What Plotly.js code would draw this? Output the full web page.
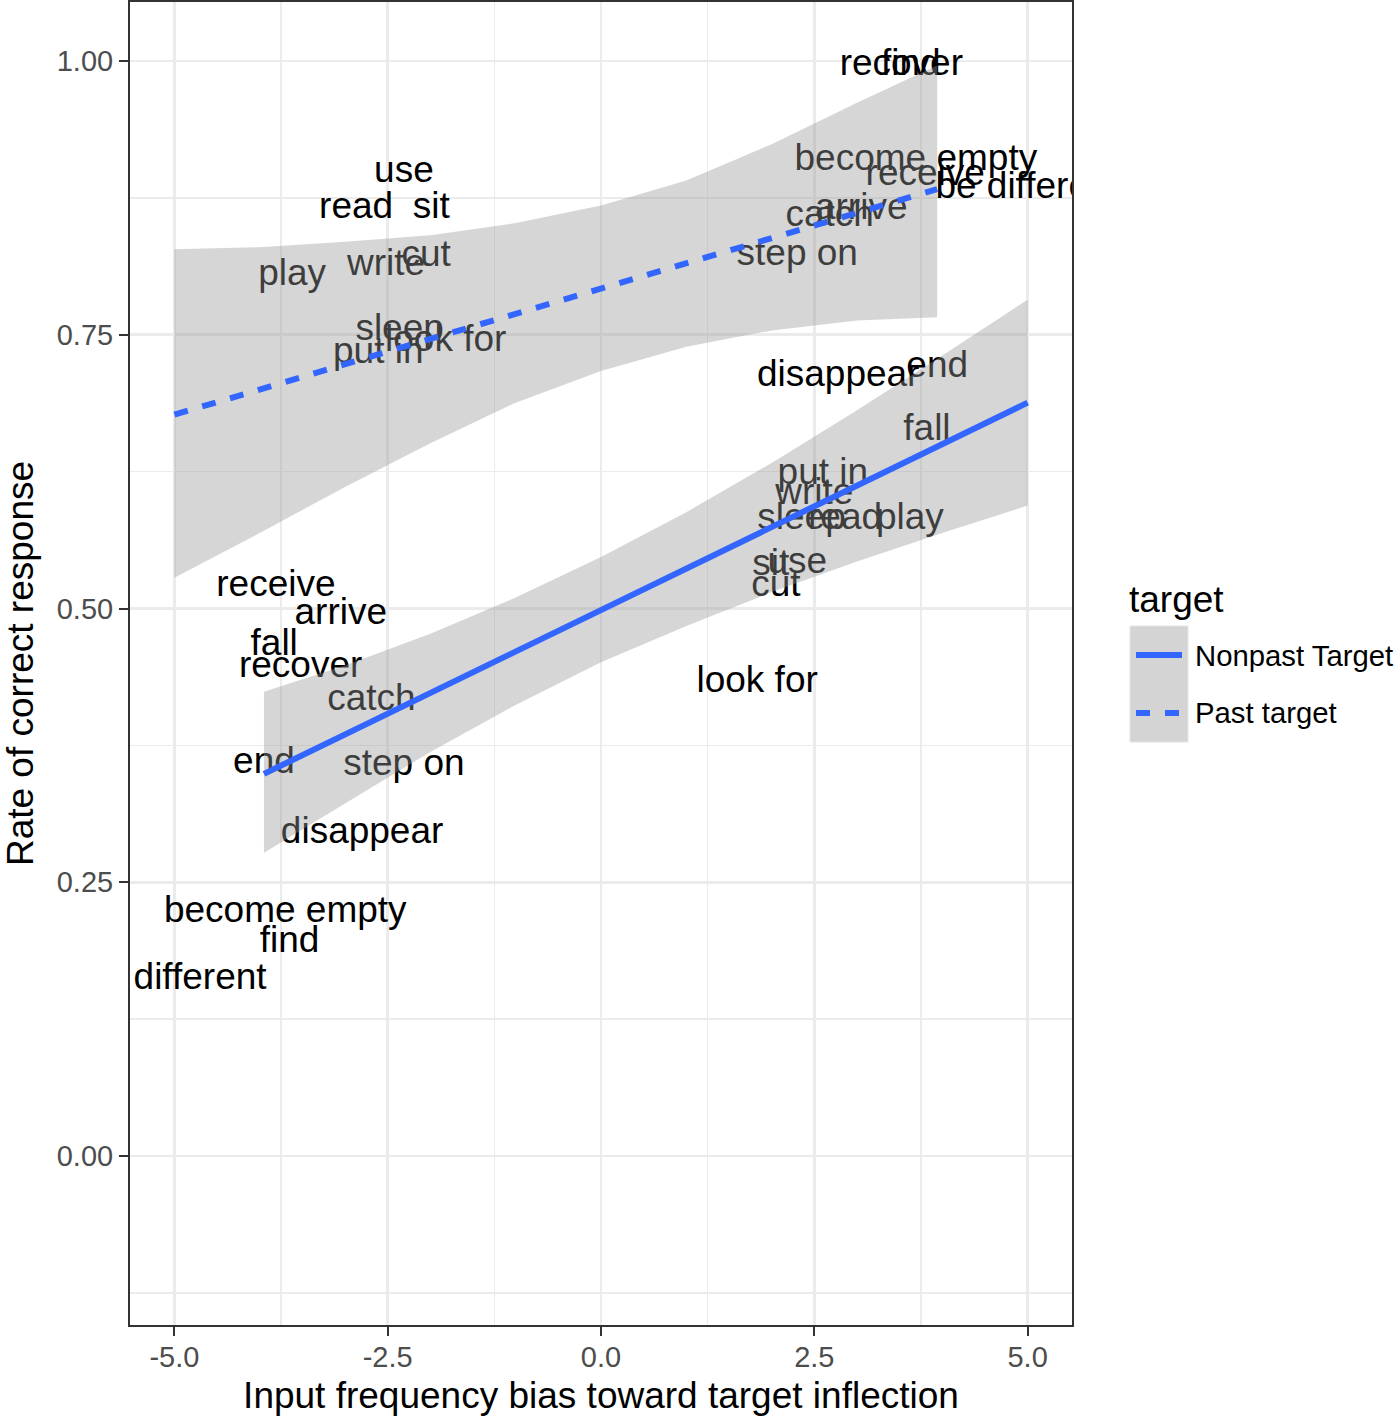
<!DOCTYPE html>
<html>
<head>
<meta charset="utf-8">
<script src="https://cdn.plot.ly/plotly-3.0.1.min.js"></script>
<style>
  html, body { margin: 0; padding: 0; background: #fff; }
  #chart { width: 1400px; height: 1418px; }
</style>
</head>
<body>
<div id="chart"></div>
<script>
// verbs, each shown once per target type
var verbs = ['use', 'read', 'sit', 'write', 'cut', 'play', 'sleep', 'put in', 'look for', 'be different',
             'recover', 'find', 'become empty', 'receive', 'catch', 'arrive', 'step on', 'disappear', 'end', 'fall'];

// input frequency bias toward target inflection
var biasNonpast = [2.30, 2.86, 1.99, 2.50, 2.05, 3.62, 2.35, 2.60, 1.83, 5.00,
                   -3.52, -3.65, -3.70, -3.81, -2.69, -3.05, -2.31, -2.80, -3.95, -3.83];
var biasPast = [-2.31, -2.87, -1.99, -2.52, -2.05, -3.62, -2.36, -2.61, -1.82, -5.00,
                3.52, 3.63, 3.69, 3.80, 2.68, 3.05, 2.30, 2.78, 3.94, 3.82];

// rate of correct response
var rateNonpast = [0.541, 0.581, 0.539, 0.604, 0.520, 0.581, 0.581, 0.622, 0.432, 0.883,
                   0.446, 0.195, 0.222, 0.520, 0.416, 0.494, 0.356, 0.294, 0.358, 0.466];
var ratePast = [0.898, 0.865, 0.865, 0.813, 0.821, 0.804, 0.754, 0.733, 0.744, 0.161,
                0.996, 0.996, 0.909, 0.895, 0.858, 0.864, 0.822, 0.712, 0.720, 0.662];

// smoother fits with confidence bands
var pastBandX = [-5, -4, -3, -2, -1, 0, 1, 2, 3, 3.94];
var pastUpper = [0.828, 0.830, 0.835, 0.841, 0.852, 0.868, 0.891, 0.924, 0.962, 0.996];
var pastLower = [0.528, 0.569, 0.611, 0.651, 0.688, 0.717, 0.739, 0.754, 0.763, 0.766];
var pastFitX = [-5, 3.94];
var pastFit = [0.677, 0.883];

var nonpastBandX = [-3.95, -3, -2, -1, 0, 1, 2, 3, 4, 5];
var nonpastUpper = [0.424, 0.448, 0.477, 0.510, 0.547, 0.588, 0.633, 0.681, 0.731, 0.782];
var nonpastLower = [0.277, 0.322, 0.369, 0.412, 0.451, 0.484, 0.515, 0.543, 0.569, 0.594];
var nonpastFitX = [-3.95, 5];
var nonpastFit = [0.349, 0.688];

var xTicks = [-5, -2.5, 0, 2.5, 5];
var xTickText = ['-5.0', '-2.5', '0.0', '2.5', '5.0'];
var xMinor = [-3.75, -1.25, 1.25, 3.75];
var yTicks = [0, 0.25, 0.5, 0.75, 1];
var yTickText = ['0.00', '0.25', '0.50', '0.75', '1.00'];
var yMinor = [-0.125, 0.125, 0.375, 0.625, 0.875];

var FONT = 'Liberation Sans, Arial, Helvetica, sans-serif';
var BLUE = '#3366FF';
var BAND = 'rgba(153,153,153,0.4)';

function band(xs, upper, lower) {
  return {
    x: xs.concat(xs.slice().reverse()),
    y: upper.concat(lower.slice().reverse()),
    type: 'scatter',
    mode: 'lines',
    fill: 'toself',
    fillcolor: BAND,
    line: {width: 0},
    hoverinfo: 'skip',
    showlegend: false
  };
}

function labels(xs, ys) {
  return {
    x: xs,
    y: ys,
    text: verbs,
    type: 'scatter',
    mode: 'text',
    textposition: 'middle center',
    textfont: {family: FONT, size: 37, color: '#000000'},
    hoverinfo: 'skip',
    showlegend: false
  };
}

var data = [
  labels(biasNonpast, rateNonpast),
  labels(biasPast, ratePast),
  band(nonpastBandX, nonpastUpper, nonpastLower),
  band(pastBandX, pastUpper, pastLower),
  {x: nonpastFitX, y: nonpastFit, type: 'scatter', mode: 'lines',
   line: {color: BLUE, width: 6}, showlegend: false, name: 'Nonpast Target'},
  {x: pastFitX, y: pastFit, type: 'scatter', mode: 'lines',
   line: {color: BLUE, width: 6, dash: '14px,15px'}, showlegend: false, name: 'Past target'}
];

// legend drawn by hand so the key looks like the ggplot guide
function px(x) { return (x - 130) / 942; }
function py(y) { return (1325 - y) / 1323; }

var shapes = [
  {type: 'rect', xref: 'paper', yref: 'paper', x0: px(1130), x1: px(1188), y0: py(742), y1: py(626),
   fillcolor: '#d4d4d4', line: {color: '#e4e4e4', width: 1}},
  {type: 'line', xref: 'paper', yref: 'paper', x0: px(1136), x1: px(1182), y0: py(655), y1: py(655),
   line: {color: BLUE, width: 6}},
  {type: 'line', xref: 'paper', yref: 'paper', x0: px(1136), x1: px(1182), y0: py(713), y1: py(713),
   line: {color: BLUE, width: 6, dash: '14px,15px'}}
];

var annotations = [
  {xref: 'paper', yref: 'paper', x: px(1127), y: py(599), xanchor: 'left', yanchor: 'middle',
   text: 'target', showarrow: false, font: {family: FONT, size: 37, color: '#000000'}},
  {xref: 'paper', yref: 'paper', x: px(1193), y: py(655), xanchor: 'left', yanchor: 'middle',
   text: 'Nonpast Target', showarrow: false, font: {family: FONT, size: 29.3, color: '#000000'}},
  {xref: 'paper', yref: 'paper', x: px(1193), y: py(713), xanchor: 'left', yanchor: 'middle',
   text: 'Past target', showarrow: false, font: {family: FONT, size: 29.3, color: '#000000'}}
];

var axisCommon = {
  showline: true,
  mirror: true,
  linecolor: '#333333',
  linewidth: 2,
  zeroline: false,
  showgrid: true,
  gridcolor: '#ebebeb',
  gridwidth: 2.8,
  ticks: 'outside',
  ticklen: 9,
  tickwidth: 2,
  tickcolor: '#333333',
  tickfont: {family: FONT, size: 29, color: '#4d4d4d'},
  tickmode: 'array'
};

var layout = {
  width: 1400,
  height: 1418,
  margin: {l: 130, r: 328, t: 2, b: 93},
  paper_bgcolor: '#ffffff',
  plot_bgcolor: '#ffffff',
  showlegend: false,
  xaxis: Object.assign({}, axisCommon, {
    range: [-5.52, 5.52],
    tickvals: xTicks,
    ticktext: xTickText,
    ticklabelstandoff: -4,
    minor: {tickmode: 'array', tickvals: xMinor, showgrid: true, gridcolor: '#ebebeb', gridwidth: 1.4, ticks: ''},
    title: {text: 'Input frequency bias toward target inflection', standoff: 10,
            font: {family: FONT, size: 37, color: '#000000'}}
  }),
  yaxis: Object.assign({}, axisCommon, {
    range: [-0.1543, 1.0539],
    tickvals: yTicks,
    ticktext: yTickText,
    minor: {tickmode: 'array', tickvals: yMinor, showgrid: true, gridcolor: '#ebebeb', gridwidth: 1.4, ticks: ''},
    title: {text: 'Rate of correct response', standoff: 17,
            font: {family: FONT, size: 37, color: '#000000'}}
  }),
  shapes: shapes,
  annotations: annotations
};

Plotly.newPlot('chart', data, layout, {displayModeBar: false, staticPlot: true});
</script>
</body>
</html>
